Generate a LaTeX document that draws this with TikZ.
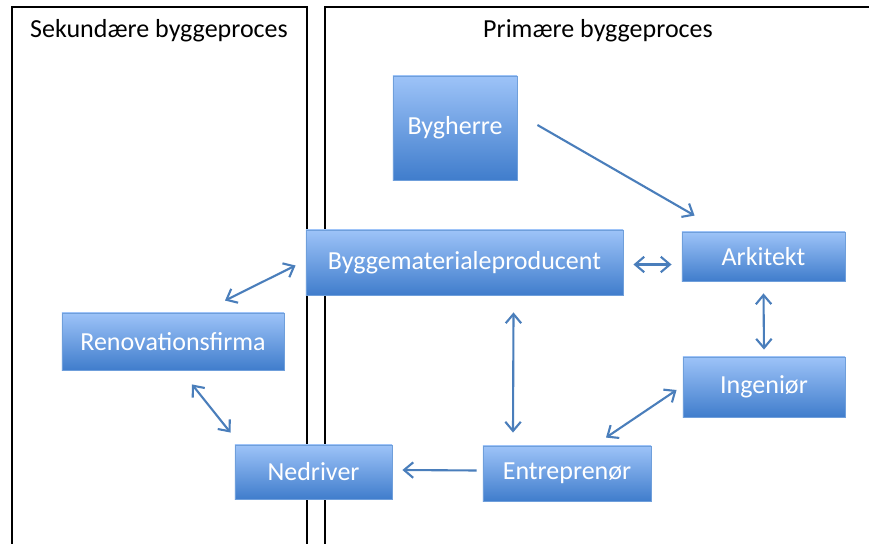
\documentclass[tikz,border=0pt]{standalone}
\usepackage{fontspec}
\setmainfont{Carlito}
\usetikzlibrary{arrows.meta,calc,shadows}
\definecolor{boxtop}{HTML}{9DC3F8}
\definecolor{boxbot}{HTML}{407DCC}
\definecolor{boxline}{HTML}{6F9FDB}
\definecolor{arrowblue}{HTML}{4A7EBB}
\begin{document}
\begin{tikzpicture}[
  x=0.025cm, y=-0.025cm,
  actor/.style={draw=boxline, line width=0.6pt, rectangle, top color=boxtop, bottom color=boxbot,
    text=white, font=\fontsize{18.5}{22}\selectfont, inner sep=0pt,
    drop shadow={opacity=0.2, shadow xshift=0.6pt, shadow yshift=-1pt}},
  panel/.style={draw=black, line width=1pt},
  title/.style={font=\fontsize{18.5}{22}\selectfont},
  link/.style={draw=arrowblue, line width=1.5pt},
  >={Straight Barb[length=6.5pt,width=11pt]}
]
  \useasboundingbox (0,0) rectangle (869,544);
  \clip (0,0) rectangle (869,544);

  \draw[panel] (12,7) rectangle (307,570);
  \draw[panel] (325,7) rectangle (890,570);
  \node[title] (sek) at (159,31) {Sekundære byggeproces};
  \node[title] (pri) at (598,31) {Primære byggeproces};

  \node[actor, minimum width=3.1cm,   minimum height=2.6cm]   (byg) at (455,128) {Bygherre};
  \node[actor, minimum width=7.925cm, minimum height=1.625cm] (bmp) at (464.5,262.5) {Byggematerialeproducent};
  \node[actor, minimum width=4.075cm, minimum height=1.225cm] (ark) at (763.5,256.5) {Arkitekt};
  \node[actor, minimum width=5.55cm,  minimum height=1.425cm] (ren) at (173,341.5) {Renovationsfirma};
  \node[actor, minimum width=4.05cm,  minimum height=1.5cm]   (ing) at (764,387) {Ingeniør};
  \node[actor, minimum width=3.925cm, minimum height=1.35cm]  (ned) at (313.5,472) {Nedriver};
  \node[actor, minimum width=4.2cm,   minimum height=1.375cm] (ent) at (567,473.5) {Entreprenør};

  \draw[link, ->]  ($(byg.east)+(20,-3)$) -- ($(ark.north west)+(13,-16)$);
  \draw[link, <->] ($(bmp.east)+(10,2)$) -- ($(ark.west)+(-10,8)$);
  \draw[link, <->] ($(bmp.west)+(-10,3)$) -- ($(ren.north)+(52,-12)$);
  \draw[link, <->] ($(bmp.south)+(49,17)$) -- ($(ent.north)+(-54,-13)$);
  \draw[link, <->] ($(ark.south)+(0,12)$) -- ($(ing.north)+(0,-7)$);
  \draw[link, <->] ($(ing.west)+(-6,3)$) -- ($(ent.north)+(39,-8)$);
  \draw[link, <->] ($(ren.south)+(19,14)$) -- ($(ned.north)+(-83,-12)$);
  \draw[link, ->]  ($(ent.west)+(-6,-3)$) -- ($(ned.east)+(10,-2)$);
\end{tikzpicture}
\end{document}
